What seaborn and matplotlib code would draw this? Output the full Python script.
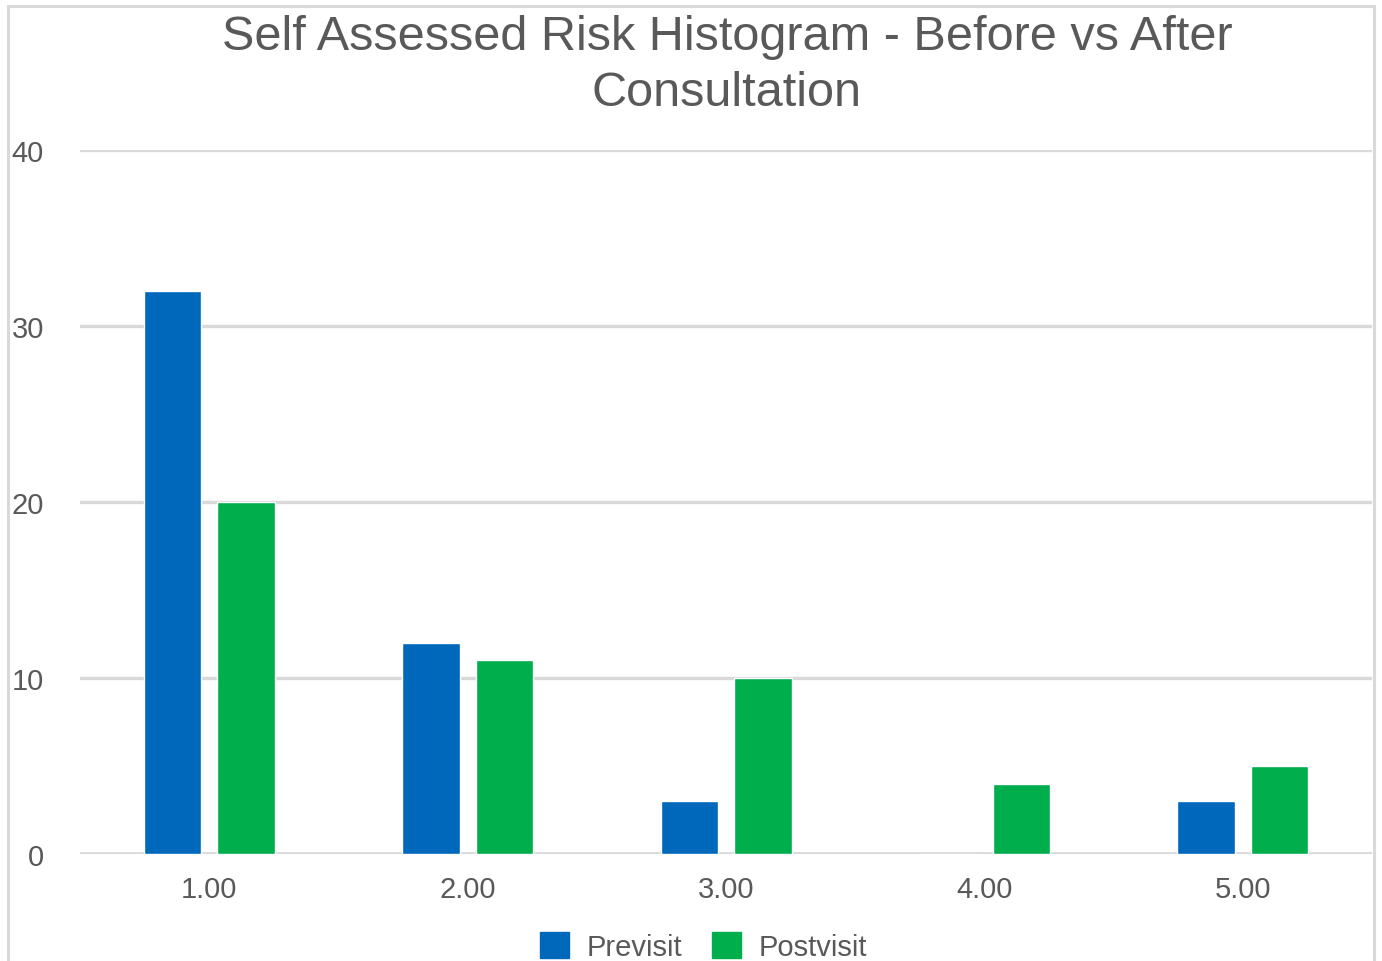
import matplotlib
matplotlib.use("Agg")
import matplotlib.pyplot as plt
import seaborn as sns
import pandas as pd
from matplotlib.patches import Rectangle

# Risk score categories and counts per survey
categories = ["1.00", "2.00", "3.00", "4.00", "5.00"]
previsit = [32, 12, 3, 0, 3]
postvisit = [20, 11, 10, 4, 5]
series_names = ["Previsit", "Postvisit"]
y_ticks = [0, 10, 20, 30, 40]

df = pd.DataFrame({
    "score": categories * 2,
    "count": previsit + postvisit,
    "visit": [series_names[0]] * len(categories) + [series_names[1]] * len(categories),
})

sns.set_theme(style="white")
plt.rcParams["font.family"] = ["Liberation Sans", "DejaVu Sans"]
text_color = "#595959"
grid_color = "#d9d9d9"

fig = plt.figure(figsize=(13.82, 9.62), dpi=100)
ax = fig.add_axes([0.0579, 0.1112, 0.935, 0.7318])

sns.barplot(
    data=df, x="score", y="count", hue="visit",
    palette={"Previsit": "#0068bb", "Postvisit": "#00ae4c"},
    width=0.569, gap=0.218, ax=ax, legend=False, saturation=1,
)

ax.set_xlim(-0.5, len(categories) - 0.5)
ax.set_ylim(0, 40)
ax.set_yticks(y_ticks)
ax.set_xlabel("")
ax.set_ylabel("")
for s in ax.spines.values():
    s.set_visible(False)
ax.yaxis.grid(True, color=grid_color, linewidth=2.4)
ax.set_axisbelow(True)
ax.axhline(0, color=grid_color, linewidth=2.6, zorder=0.5)
ax.tick_params(axis="y", length=0, pad=26, labelsize=21, labelcolor=text_color)
ax.tick_params(axis="x", length=0, pad=15, labelsize=21, labelcolor=text_color)

fig.text(0.526, 0.932, "Self Assessed Risk Histogram - Before vs After\nConsultation",
         ha="center", va="center", fontsize=35, color=text_color, linespacing=1.33)

# Outer chart frame
fig.patches.append(Rectangle((8 / 1382, -0.05), (1374 - 8) / 1382, 1.05 - 7 / 962,
                             transform=fig.transFigure, fill=False,
                             edgecolor=grid_color, linewidth=2.2, zorder=0))

handles = [Rectangle((0, 0), 1, 1, color="#0068bb"), Rectangle((0, 0), 1, 1, color="#00ae4c")]
fig.legend(handles, series_names, loc="center", bbox_to_anchor=(0.509, 0.015),
           ncol=2, frameon=False, fontsize=21, labelcolor=text_color,
           handlelength=1.0, handleheight=1.0, handletextpad=0.6, columnspacing=1.0)

fig.savefig("out.png", dpi=100)
